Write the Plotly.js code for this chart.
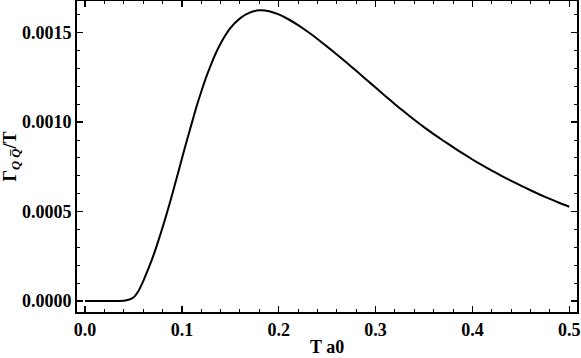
<!DOCTYPE html>
<html>
<head>
<meta charset="utf-8">
<script src="https://cdn.plot.ly/plotly-3.0.1.min.js"></script>
<style>
  html, body { margin: 0; padding: 0; background: #fff; }
  #plot { width: 581px; height: 358px; }
</style>
</head>
<body>
<div id="plot"></div>
<script>
// temperature T a0
var tA0 = [0, 0.01, 0.02, 0.03, 0.035, 0.04, 0.045, 0.05, 0.055, 0.06, 0.065, 0.07, 0.075,
  0.08, 0.085, 0.09, 0.095, 0.10, 0.105, 0.11, 0.115, 0.12, 0.125, 0.13, 0.135, 0.14,
  0.15, 0.16, 0.17, 0.18, 0.19, 0.20, 0.21, 0.22, 0.23, 0.24, 0.25, 0.26, 0.27, 0.28,
  0.29, 0.30, 0.31, 0.32, 0.33, 0.34, 0.35, 0.36, 0.37, 0.38, 0.39, 0.40, 0.41, 0.42,
  0.43, 0.44, 0.45, 0.46, 0.47, 0.48, 0.49, 0.50];

// Gamma / T, in units of 1e-4
var gammaOverT = [0, 0, 0, 0, 0.003, 0.015, 0.07, 0.2, 0.55, 1.1, 1.75, 2.45, 3.25,
  4.1, 5.0, 5.95, 6.95, 7.95, 8.95, 9.9, 10.85, 11.7, 12.5, 13.2, 13.85, 14.4,
  15.25, 15.8, 16.12, 16.25, 16.2, 16.02, 15.75, 15.42, 15.05, 14.65, 14.22, 13.78, 13.33, 12.87,
  12.4, 11.93, 11.46, 11.0, 10.56, 10.13, 9.72, 9.33, 8.96, 8.6, 8.25, 7.91, 7.59, 7.29,
  7.0, 6.72, 6.45, 6.19, 5.94, 5.71, 5.48, 5.27];

var yTicks = [0, 0.0005, 0.001, 0.0015];
var xTicks = [0, 0.1, 0.2, 0.3, 0.4, 0.5];
var xRange = [-0.0083, 0.508];
var yRange = [-0.0000615, 0.001677];

var serif = "Liberation Serif, Times New Roman, serif";
var tickFont = { family: serif, size: 18, color: "black", weight: "bold" };
var titleFont = { family: serif, size: 18, color: "black", weight: "bold" };

var yVals = gammaOverT.map(v => v * 1e-4);

var data = [{
  x: tA0,
  y: yVals,
  mode: "lines",
  line: { color: "black", width: 2, shape: "spline", smoothing: 0.5 },
  showlegend: false
}, {
  // carrier for the top/right frame axes
  x: tA0,
  y: yVals,
  xaxis: "x2",
  yaxis: "y2",
  mode: "lines",
  line: { color: "rgba(0,0,0,0)", width: 0 },
  showlegend: false,
  hoverinfo: "skip"
}];

function frameAxis(extra) {
  return Object.assign({
    showgrid: false,
    zeroline: false,
    showline: true,
    linecolor: "black",
    linewidth: 2,
    ticks: "inside",
    ticklen: 6,
    tickwidth: 1.5,
    tickcolor: "black",
    tickfont: tickFont
  }, extra);
}

var xMinor = { dtick: 0.02, tick0: 0, ticks: "inside", ticklen: 3, tickwidth: 1, tickcolor: "black" };
var yMinor = { dtick: 0.0001, tick0: 0, ticks: "inside", ticklen: 3, tickwidth: 1, tickcolor: "black" };

var layout = {
  width: 581,
  height: 358,
  margin: { l: 77, r: 4, t: 1, b: 46 },
  paper_bgcolor: "white",
  plot_bgcolor: "white",
  xaxis: frameAxis({
    range: xRange,
    tickvals: xTicks,
    tickformat: ".1f",
    minor: xMinor
  }),
  yaxis: frameAxis({
    range: yRange,
    tickvals: yTicks,
    tickformat: ".4f",
    minor: yMinor,
    title: { text: "Γ<sub><i>Q</i> <i>Q̅</i></sub>/T", font: titleFont, standoff: 4 }
  }),
  xaxis2: frameAxis({
    range: xRange,
    tickvals: xTicks,
    minor: xMinor,
    overlaying: "x",
    side: "top",
    showticklabels: false
  }),
  yaxis2: frameAxis({
    range: yRange,
    tickvals: yTicks,
    minor: yMinor,
    overlaying: "y",
    side: "right",
    showticklabels: false
  }),
  annotations: [{
    text: "T a0",
    font: titleFont,
    xref: "paper",
    yref: "paper",
    x: 0.5,
    y: -0.1125,
    xanchor: "center",
    yanchor: "middle",
    showarrow: false
  }]
};

Plotly.newPlot("plot", data, layout, { displayModeBar: false, staticPlot: true });
</script>
</body>
</html>
